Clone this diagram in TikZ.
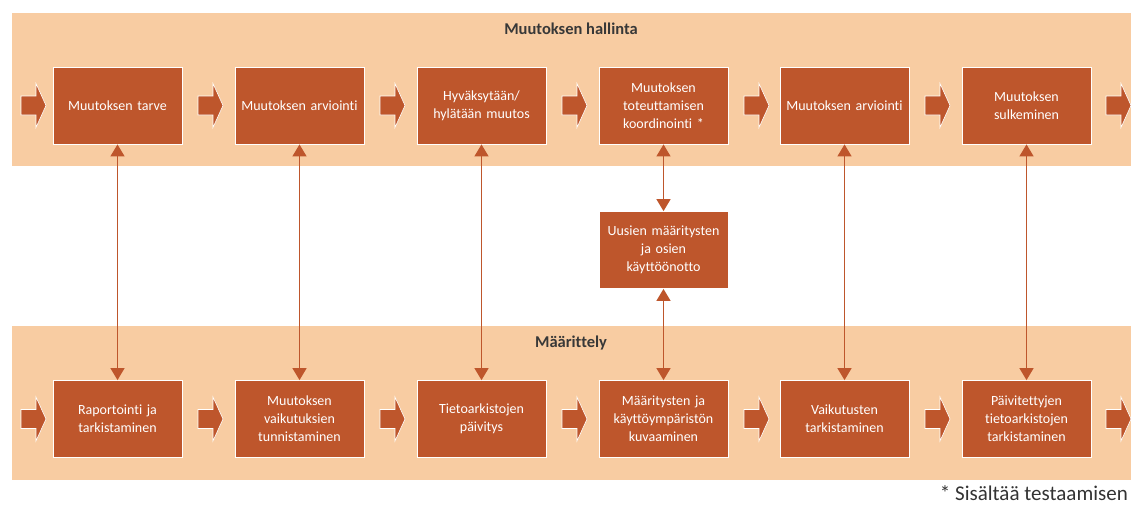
\documentclass[tikz,border=0pt]{standalone}
\usepackage{fontspec}
\setmainfont{Carlito}[Ligatures=NoCommon]
\usetikzlibrary{arrows.meta}
\definecolor{band}{RGB}{248,204,162}
\definecolor{boxc}{RGB}{190,86,44}
\tikzset{
  stepbox/.style={draw=white, line width=0.8pt, fill=boxc, text=white, minimum width=129pt, minimum height=77pt, inner sep=2pt, align=center, text width=125pt, font=\fontsize{14}{18}\selectfont},
  link/.style={draw=boxc, line width=1.4pt, {Triangle[width=14pt,length=12pt]}-{Triangle[width=14pt,length=12pt]}},
  title/.style={font=\bfseries\fontsize{16.5}{19}\selectfont, text=black!78},
}
\newcommand{\blockarrow}[2]{%
  \filldraw[fill=boxc, draw=white, line width=0.6pt] (#1,#2-9.5) -- (#1+15,#2-9.5) -- (#1+15,#2-22) -- (#1+25,#2) -- (#1+15,#2+22) -- (#1+15,#2+9.5) -- (#1,#2+9.5) -- cycle;}
\begin{document}
\begin{tikzpicture}[x=1pt,y=-1pt]
\useasboundingbox (0,0) rectangle (1131,504);
\fill[white] (0,0) rectangle (1131,504);
\fill[band] (12,13) rectangle (1131,166);
\fill[band] (12,326) rectangle (1131,480);
\node[title] (th) at (571,29) {Muutoksen hallinta};
\node[title] (bh) at (571,343) {Määrittely};
% top row
\node[stepbox] (t1) at (117.5,105.5) {Muutoksen tarve};
\node[stepbox] (t2) at (299.5,105.5) {Muutoksen arviointi};
\node[stepbox] (t3) at (481.5,105.5) {Hyväksytään/\\hylätään muutos};
\node[stepbox] (t4) at (663.5,105.5) {Muutoksen\\toteuttamisen\\koordinointi *};
\node[stepbox] (t5) at (844.5,105.5) {Muutoksen arviointi};
\node[stepbox] (t6) at (1026.5,105.5) {Muutoksen\\sulkeminen};
% middle
\node[stepbox] (m4) at (663.5,250) {Uusien määritysten\\ja osien\\käyttöönotto};
% bottom row
\node[stepbox] (b1) at (117.5,419) {Raportointi ja\\tarkistaminen};
\node[stepbox] (b2) at (299.5,419) {Muutoksen\\vaikutuksien\\tunnistaminen};
\node[stepbox] (b3) at (481.5,419) {Tietoarkistojen\\päivitys};
\node[stepbox] (b4) at (663.5,419) {Määritysten ja\\käyttöympäristön\\kuvaaminen};
\node[stepbox] (b5) at (844.5,419) {Vaikutusten\\tarkistaminen};
\node[stepbox] (b6) at (1026.5,419) {Päivitettyjen\\tietoarkistojen\\tarkistaminen};
% block arrows
\foreach \x in {21,198,380,562,744,925,1106}{
  \blockarrow{\x}{105.5}
  \blockarrow{\x}{419}
}
% vertical links
\draw[link] (t1.south) -- (b1.north);
\draw[link] (t2.south) -- (b2.north);
\draw[link] (t3.south) -- (b3.north);
\draw[link] (t4.south) -- (m4.north);
\draw[link] (m4.south) -- (b4.north);
\draw[link] (t5.south) -- (b5.north);
\draw[link] (t6.south) -- (b6.north);
% footnote
\node[anchor=base east, inner sep=0pt, font=\fontsize{21}{23}\selectfont, text=black!80] (fn) at (1128,500) {* Sisältää testaamisen};
\end{tikzpicture}
\end{document}
